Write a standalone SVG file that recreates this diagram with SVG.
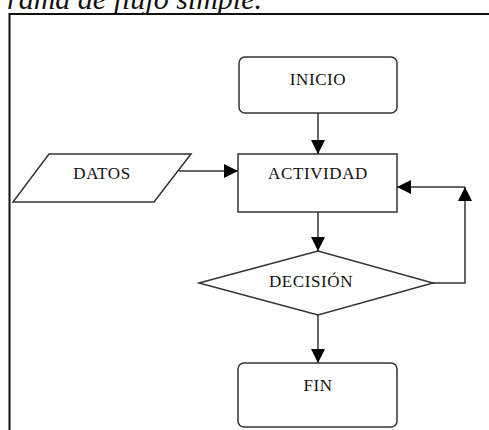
<svg xmlns="http://www.w3.org/2000/svg" width="489" height="430" viewBox="0 0 489 430">
<style>
.shape{fill:#fff;stroke:#333;stroke-width:1.5}
.lbl{font-family:"Liberation Serif","Times New Roman",serif;font-size:17px;fill:#111;text-anchor:middle;letter-spacing:0.6px}
.conn{fill:none;stroke:#333;stroke-width:1.5}
</style>
<defs>
<marker id="ah" markerUnits="userSpaceOnUse" markerWidth="14" markerHeight="14" viewBox="0 0 14 14" refX="14" refY="7" orient="auto">
<path d="M0,0 L14,7 L0,14 z" fill="#000"/>
</marker>
</defs>
<rect width="489" height="430" fill="#fff"/>
<text x="262" y="9" font-family="Liberation Serif,'Times New Roman',serif" font-style="italic" font-size="30" fill="#111" text-anchor="end">rama de flujo simple.</text>
<path d="M9.5,430 V14 H489" fill="none" stroke="#111" stroke-width="2"/>
<g id="connectors">
<line class="conn" x1="318" y1="113" x2="318" y2="154" marker-end="url(#ah)"/>
<line class="conn" x1="179" y1="171" x2="238" y2="171" marker-end="url(#ah)"/>
<line class="conn" x1="318" y1="212" x2="318" y2="251" marker-end="url(#ah)"/>
<line class="conn" x1="318" y1="315" x2="318" y2="363" marker-end="url(#ah)"/>
<polyline class="conn" points="433,283 465,283 465,187" marker-end="url(#ah)"/>
<line class="conn" x1="465" y1="187" x2="397" y2="187" marker-end="url(#ah)"/>
</g>
<g id="inicio">
<rect class="shape" x="239" y="57" width="158" height="56" rx="6"/>
<text class="lbl" x="318" y="85">INICIO</text>
</g>
<g id="datos">
<polygon class="shape" points="49,154 191,154 154,202 13,202"/>
<text class="lbl" x="102" y="179">DATOS</text>
</g>
<g id="actividad">
<rect class="shape" x="238" y="154" width="159" height="58"/>
<text class="lbl" x="318" y="179">ACTIVIDAD</text>
</g>
<g id="decision">
<polygon class="shape" points="199,283 318,251 433,283 318,315"/>
<text class="lbl" x="311" y="287">DECISIÓN</text>
</g>
<g id="fin">
<rect class="shape" x="238" y="363" width="159" height="64" rx="6"/>
<text class="lbl" x="318" y="391">FIN</text>
</g>
</svg>
